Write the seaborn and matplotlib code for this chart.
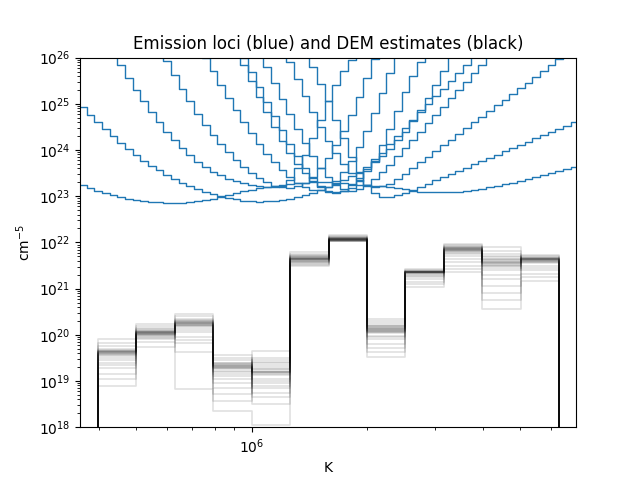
import numpy as np
import pandas as pd
import matplotlib
matplotlib.use("Agg")
import matplotlib.pyplot as plt
import seaborn as sns

# Emission loci: log10 EM (cm^-5) sampled every 0.02 in log10 T,
# each list starts at the log10 T given in its *_start value
locus_1_start = 5.54
locus_1 = [23.33, 23.25, 23.18, 23.12, 23.07, 23.02, 22.98, 22.95, 22.92, 22.90,
           22.88, 22.87, 22.86, 22.86, 22.86, 22.87, 22.89, 22.91, 22.94, 22.98,
           23.02, 23.07, 23.11, 23.14, 23.17, 23.20, 23.23, 23.25, 23.27, 23.28,
           23.29, 23.30, 23.30, 23.30, 23.29, 23.28, 23.27, 23.25, 23.24, 23.22,
           23.21, 23.19, 23.17, 23.15, 23.12, 23.10, 23.09, 23.09, 23.09, 23.09,
           23.10, 23.11, 23.13, 23.16, 23.19, 23.22, 23.26, 23.29, 23.33, 23.37,
           23.41, 23.45, 23.50, 23.54, 23.59, 23.64, 23.69]
locus_2_start = 5.54
locus_2 = [25.08, 24.92, 24.76, 24.60, 24.45, 24.30, 24.16, 24.02, 23.89, 23.77,
           23.66, 23.56, 23.46, 23.37, 23.29, 23.22, 23.15, 23.09, 23.04, 23.00,
           22.96, 22.93, 22.90, 22.89, 22.88, 22.89, 22.90, 22.92, 22.95, 22.99,
           23.03, 23.08, 23.14, 23.20, 23.27, 23.35, 23.43, 23.53, 23.63, 23.75,
           23.88, 24.03, 24.21, 24.40, 24.62, 24.86, 25.12, 25.40, 25.70, 26.02,
           26.35]
locus_3_start = 5.62
locus_3 = [26.45, 26.13, 25.83, 25.55, 25.29, 25.05, 24.82, 24.60, 24.40, 24.21,
           24.04, 23.89, 23.75, 23.63, 23.53, 23.45, 23.38, 23.33, 23.29, 23.25,
           23.22, 23.20, 23.20, 23.22, 23.35, 23.60, 23.90, 24.25, 24.65, 25.05,
           25.40, 25.70, 25.95, 26.20]
locus_4_start = 5.76
locus_4 = [26.25, 25.93, 25.62, 25.33, 25.05, 24.79, 24.55, 24.33, 24.13, 23.95,
           23.78, 23.63, 23.50, 23.39, 23.30, 23.23, 23.19, 23.18, 23.21, 23.29,
           23.42, 23.60, 23.83, 24.10, 24.41, 24.76, 25.14, 25.55, 25.98, 26.42]
locus_5_start = 5.86
locus_5 = [26.30, 26.00, 25.70, 25.41, 25.13, 24.86, 24.60, 24.36, 24.13, 23.92,
           23.73, 23.56, 23.41, 23.28, 23.19, 23.14, 23.14, 23.20, 23.33, 23.52,
           23.77, 24.07, 24.42, 24.81, 25.23, 25.67, 26.12]
locus_6_start = 5.96
locus_6 = [26.15, 25.85, 25.50, 25.15, 24.82, 24.50, 24.20, 23.93, 23.70, 23.50,
           23.33, 23.20, 23.12, 23.09, 23.11, 23.18, 23.33, 23.55, 23.80, 24.10,
           24.45, 24.85, 25.25, 25.60, 25.90, 26.20]
locus_7_start = 5.96
locus_7 = [26.30, 26.00, 25.68, 25.36, 25.04, 24.73, 24.43, 24.14, 23.87, 23.62,
           23.40, 23.22, 23.09, 23.06, 23.12, 23.24, 23.40, 23.58, 23.76, 23.94,
           24.12, 24.30, 24.48, 24.65, 24.82, 24.99, 25.16, 25.33, 25.50, 25.67,
           25.84, 26.01, 26.18]
locus_8_start = 6.00
locus_8 = [26.50, 26.15, 25.80, 25.45, 25.10, 24.77, 24.45, 24.15, 23.87, 23.62,
           23.41, 23.25, 23.15, 23.12, 23.15, 23.24, 23.37, 23.52, 23.68, 23.86,
           24.04, 24.22, 24.40, 24.58, 24.76, 24.94, 25.12, 25.30, 25.48, 25.66,
           25.84, 26.02, 26.20]
locus_9_start = 6.08
locus_9 = [26.25, 25.90, 25.53, 25.17, 24.82, 24.50, 24.20, 23.93, 23.70, 23.50,
           23.35, 23.25, 23.20, 23.21, 23.27, 23.37, 23.48, 23.60, 23.73, 23.85,
           23.98, 24.10, 24.22, 24.35, 24.47, 24.60, 24.72, 24.84, 24.97, 25.09,
           25.22, 25.34, 25.46, 25.59, 25.71, 25.84, 25.96, 26.08]
locus_10_start = 6.14
locus_10 = [26.20, 25.80, 25.42, 25.05, 24.65, 24.25, 23.85, 23.50, 23.22, 23.06,
            22.99, 22.99, 23.02, 23.07, 23.13, 23.20, 23.27, 23.34, 23.41, 23.48,
            23.55, 23.62, 23.69, 23.76, 23.83, 23.90, 23.97, 24.04, 24.11, 24.18,
            24.25, 24.32, 24.39, 24.46, 24.53, 24.60, 24.67]
loci = [(locus_1_start, locus_1), (locus_2_start, locus_2), (locus_3_start, locus_3),
        (locus_4_start, locus_4), (locus_5_start, locus_5), (locus_6_start, locus_6),
        (locus_7_start, locus_7), (locus_8_start, locus_8), (locus_9_start, locus_9),
        (locus_10_start, locus_10)]
loci_step = 0.02

# DEM temperature bin edges (log10 K)
dem_edges_logt = [5.6, 5.7, 5.8, 5.9, 6.0, 6.1, 6.2, 6.3, 6.4, 6.5, 6.6, 6.7, 6.8]
# log10 DEM samples in each bin (one value per sample)
dem_bin_01 = [19.62, 19.60, 19.65, 19.58, 19.63, 19.70, 19.55, 19.61, 19.75, 19.50, 19.64, 19.45, 19.66,
              19.35, 19.59, 19.82, 19.28, 19.62, 19.91, 19.15, 19.57, 19.68, 19.05, 19.40, 18.90]
dem_bin_02 = [20.03, 20.05, 20.00, 20.08, 20.02, 20.10, 19.97, 20.04, 20.15, 20.01, 20.06, 19.93, 20.03,
              20.20, 20.07, 19.90, 20.12, 20.00, 20.24, 19.85, 20.05, 19.73, 20.09, 20.02, 19.95]
dem_bin_03 = [20.25, 20.28, 20.22, 20.30, 20.18, 20.26, 20.35, 20.10, 20.27, 20.24, 20.05, 20.29, 20.44,
              19.95, 20.21, 20.32, 19.82, 20.26, 20.15, 19.62, 20.23, 20.40, 19.88, 20.20, 18.82]
dem_bin_04 = [19.31, 19.28, 19.35, 19.22, 19.33, 19.40, 19.15, 19.30, 19.45, 19.05, 19.32, 18.95, 19.36,
              19.25, 19.50, 18.85, 19.29, 19.57, 18.72, 19.34, 19.10, 18.56, 19.38, 19.20, 18.36]
dem_bin_05 = [19.20, 19.25, 19.15, 19.38, 19.22, 19.05, 19.42, 19.18, 18.95, 19.30, 19.20, 18.85, 19.50,
              19.12, 18.75, 19.64, 19.26, 18.65, 19.35, 19.00, 18.51, 19.45, 19.19, 18.90, 18.04]
dem_bin_06 = [21.64, 21.66, 21.62, 21.68, 21.60, 21.65, 21.70, 21.58, 21.63, 21.72, 21.55, 21.67, 21.61,
              21.75, 21.52, 21.64, 21.69, 21.57, 21.79, 21.63, 21.49, 21.66, 21.60, 21.71, 21.54]
dem_bin_07 = [22.07, 22.08, 22.06, 22.09, 22.05, 22.10, 22.07, 22.04, 22.11, 22.06, 22.08, 22.03, 22.12,
              22.07, 22.05, 22.09, 22.15, 22.06, 22.02, 22.08, 22.10, 22.04, 22.07, 22.13, 22.06]
dem_bin_08 = [20.10, 20.12, 20.05, 20.15, 20.08, 20.20, 19.98, 20.11, 20.25, 19.90, 20.13, 20.03, 20.18,
              19.80, 20.09, 20.30, 19.72, 20.14, 20.35, 19.62, 20.07, 20.22, 19.52, 20.16, 19.95]
dem_bin_09 = [21.35, 21.37, 21.34, 21.36, 21.32, 21.38, 21.35, 21.30, 21.39, 21.33, 21.36, 21.25, 21.40,
              21.35, 21.20, 21.37, 21.42, 21.15, 21.34, 21.38, 21.10, 21.36, 21.28, 21.03, 21.36]
dem_bin_10 = [21.84, 21.86, 21.82, 21.88, 21.80, 21.90, 21.85, 21.75, 21.92, 21.83, 21.70, 21.87, 21.95,
              21.65, 21.84, 21.89, 21.58, 21.81, 21.97, 21.50, 21.86, 21.78, 21.42, 21.88, 21.35]
dem_bin_11 = [21.55, 21.60, 21.50, 21.65, 21.45, 21.58, 21.70, 21.40, 21.56, 21.75, 21.30, 21.62, 21.52,
              21.82, 21.20, 21.57, 21.91, 21.05, 21.63, 20.90, 21.54, 21.68, 20.75, 21.48, 20.55]
dem_bin_12 = [21.62, 21.64, 21.60, 21.66, 21.58, 21.65, 21.63, 21.55, 21.68, 21.61, 21.50, 21.64, 21.70,
              21.45, 21.62, 21.67, 21.40, 21.60, 21.73, 21.32, 21.63, 21.58, 21.25, 21.66, 21.17]
dem_bins = [dem_bin_01, dem_bin_02, dem_bin_03, dem_bin_04, dem_bin_05, dem_bin_06,
            dem_bin_07, dem_bin_08, dem_bin_09, dem_bin_10, dem_bin_11, dem_bin_12]

# long tables for seaborn
rows = []
for i, (start, locus) in enumerate(loci):
    for k, v in enumerate(locus):
        rows.append({"T": 10 ** (start + loci_step * k), "em": 10 ** v, "line": i})
loci_df = pd.DataFrame(rows)

floor = 1e10  # stairs drop off the bottom of the axes
edges = 10 ** np.array(dem_edges_logt)
rows = []
for s in range(len(dem_bin_01)):
    vals = [10 ** b[s] for b in dem_bins]
    xs = [edges[0]] + list(edges[:-1]) + [edges[-1]]
    ys = [floor] + vals + [floor]
    for x, y in zip(xs, ys):
        rows.append({"T": x, "dem": y, "sample": s})
dem_df = pd.DataFrame(rows)

fig, ax = plt.subplots(figsize=(6.4, 4.8), dpi=100)
sns.lineplot(data=loci_df, x="T", y="em", units="line", estimator=None, sort=False,
             color="C0", lw=1, drawstyle="steps-mid", legend=False, ax=ax)
sns.lineplot(data=dem_df, x="T", y="dem", units="sample", estimator=None, sort=False,
             color="k", alpha=0.12, lw=1.2, drawstyle="steps-post", legend=False, ax=ax)

ax.set_xscale("log")
ax.set_yscale("log")
ax.set_xlim(10 ** 5.553, 10 ** 6.844)
ax.set_ylim(1e18, 1e26)
ax.set_xlabel("K")
ax.set_ylabel("cm$^{-5}$")
ax.set_title("Emission loci (blue) and DEM estimates (black)")

plt.savefig("out.png", dpi=100)
